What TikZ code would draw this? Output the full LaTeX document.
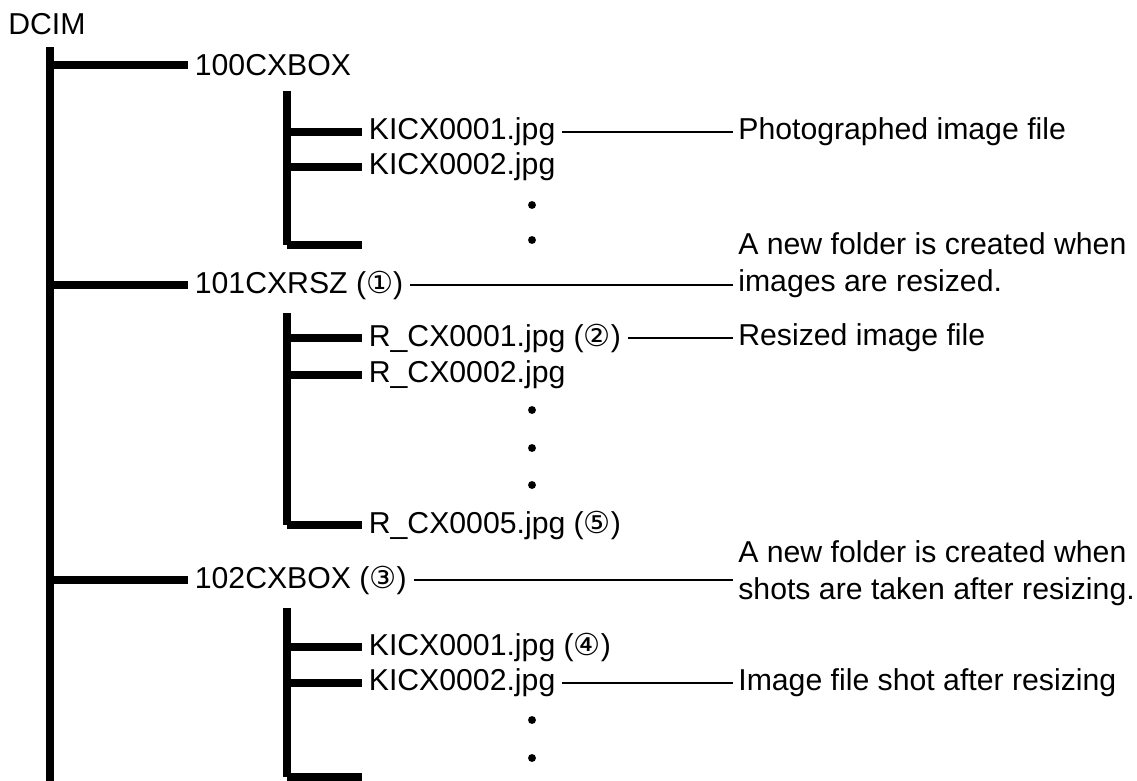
\documentclass[tikz,border=0pt]{standalone}
\usepackage{fontspec}
\setmainfont{Liberation Sans}
\newfontfamily\circfont{DejaVu Sans}
\newcommand{\circd}[1]{({\circfont #1})}
\begin{document}
\begin{tikzpicture}[x=0.02cm,y=-0.02cm,
    every node/.style={font=\fontsize{17.2}{21}\selectfont},
    item/.style={anchor=west,inner xsep=0.13cm,inner ysep=1pt},
    note/.style={anchor=west,inner xsep=0.1cm,inner ysep=1pt,align=left},
    dot/.style={circle,fill,inner sep=0pt,minimum size=4.5pt},
    trunk/.style={line width=4.5pt},
    branch/.style={line width=4pt},
    lead/.style={line width=1.2pt}]
    \useasboundingbox (0,0) rectangle (1137,781);

    % root
    \node[anchor=west,inner sep=0pt] (dcim) at (8,24) {DCIM};
    \coordinate (rtop) at (50,47);
    \coordinate (rbot) at (50,781);
    \draw[trunk] (rtop) -- (rbot);

    % folders
    \node[item] (f100) at (188,65) {100CXBOX};
    \node[item] (f101) at (188,285) {101CXRSZ \circd{①}};
    \node[item] (f102) at (188,580) {102CXBOX \circd{③}};
    \foreach \f/\y in {f100/65,f101/285,f102/580}
        \draw[branch] (50,\y) -- (\f.west);

    % files of 100CXBOX
    \node[item] (k1) at (362,132) {KICX0001.jpg};
    \node[item] (k2) at (362,167) {KICX0002.jpg};
    \coordinate (k3) at (362,245);
    \foreach \y in {205,240}
        \node[dot] at (532,\y) {};
    \draw[trunk] (287,91) -- (287,245);
    \draw[branch] (287,132) -- (k1.west);
    \draw[branch] (287,167) -- (k2.west);
    \draw[branch] (287,245) -- (k3);

    % files of 101CXRSZ
    \node[item] (r1) at (362,338) {R\_CX0001.jpg \circd{②}};
    \node[item] (r2) at (362,375) {R\_CX0002.jpg};
    \node[item] (r5) at (362,525) {R\_CX0005.jpg \circd{⑤}};
    \foreach \y in {410,448,485}
        \node[dot] at (532,\y) {};
    \draw[trunk] (287,313) -- (287,525);
    \draw[branch] (287,338) -- (r1.west);
    \draw[branch] (287,375) -- (r2.west);
    \draw[branch] (287,525) -- (r5.west);

    % files of 102CXBOX
    \node[item] (s1) at (362,647) {KICX0001.jpg \circd{④}};
    \node[item] (s2) at (362,683) {KICX0002.jpg};
    \coordinate (s3) at (362,777);
    \foreach \y in {720,758}
        \node[dot] at (532,\y) {};
    \draw[trunk] (287,608) -- (287,777);
    \draw[branch] (287,647) -- (s1.west);
    \draw[branch] (287,683) -- (s2.west);
    \draw[branch] (287,777) -- (s3);

    % notes
    \node[note] (n1) at (733,132) {Photographed image file};
    \node[note,anchor=south west] (n2) at (733,300) {A new folder is created when\\images are resized.};
    \node[note] (n3) at (733,338) {Resized image file};
    \node[note,anchor=south west] (n4) at (733,608) {A new folder is created when\\shots are taken after resizing.};
    \node[note] (n5) at (733,683) {Image file shot after resizing};
    \draw[lead] (k1.east) -- (n1.west);
    \draw[lead] (f101.east) -- (f101.east -| n2.west);
    \draw[lead] (r1.east) -- (n3.west);
    \draw[lead] (f102.east) -- (f102.east -| n4.west);
    \draw[lead] (s2.east) -- (n5.west);
\end{tikzpicture}
\end{document}
